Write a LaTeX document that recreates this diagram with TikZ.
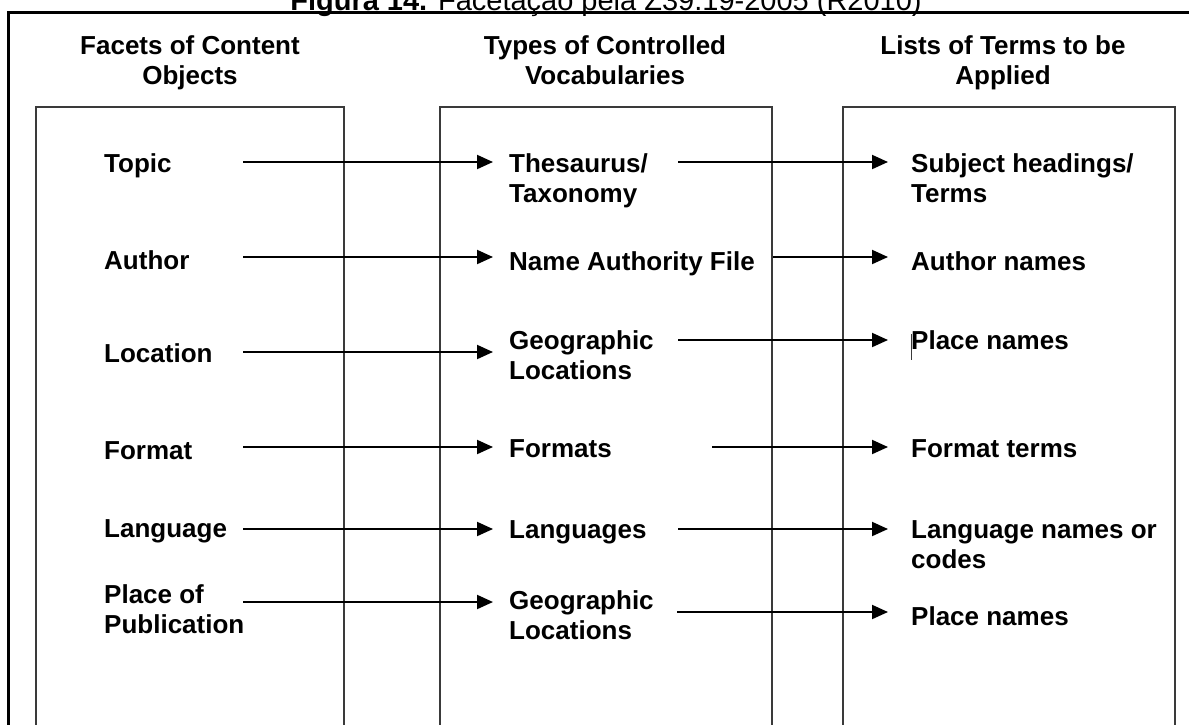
\documentclass[tikz,border=0pt]{standalone}
\usepackage{fontspec}
\setmainfont{Liberation Sans}
\usetikzlibrary{arrows.meta}
\definecolor{boxgray}{HTML}{3A3A3A}
% two stacked lines, baseline on the first one
\newcommand\twolines[2]{\begin{tabular}[t]{@{}l@{}}#1\\#2\end{tabular}}
\newcommand\twocentered[2]{\begin{tabular}[t]{@{}c@{}}#1\\#2\end{tabular}}
\begin{document}
\begin{tikzpicture}[x=1pt,y=-1pt,
  lbl/.style={anchor=base west, inner sep=0pt, font=\bfseries\fontsize{26}{30}\selectfont},
  hdr/.style={anchor=base, inner sep=0pt, font=\bfseries\fontsize{26}{30}\selectfont},
  colbox/.style={draw=boxgray, line width=2pt},
  frame/.style={draw=black, line width=2.6pt},
  arr/.style={draw=black, line width=2pt, -{Triangle[length=16pt,width=14pt]}},
]
\useasboundingbox (0,0) rectangle (1189,724);
\clip (0,0) rectangle (1189,724);

% caption
\node[anchor=base, inner sep=0pt, font=\fontsize{29}{34}\selectfont] (caption) at (606,10)
  {\textbf{Figura 14.} Facetação pela Z39.19-2005 (R2010)};

% outer frame
\draw[frame] (8.5,730) -- (8.5,12.5) -- (1195,12.5);

% column boxes (open at the bottom)
\draw[colbox] (36,730) -- (36,107) -- (344,107) -- (344,730);
\draw[colbox] (440,730) -- (440,107) -- (772,107) -- (772,730);
\draw[colbox] (843,730) -- (843,107) -- (1175,107) -- (1175,730);

% column headings
\node[hdr] (h1) at (190,54) {\twocentered{Facets of Content}{Objects}};
\node[hdr] (h2) at (605,54) {\twocentered{Types of Controlled}{Vocabularies}};
\node[hdr] (h3) at (1003,54) {\twocentered{Lists of Terms to be}{Applied}};

% facets
\node[lbl] (topic)  at (104,172.5) {Topic};
\node[lbl] (author) at (104,269.5) {Author};
\node[lbl] (loc)    at (104,362.5) {Location};
\node[lbl] (format) at (104,459.5) {Format};
\node[lbl] (lang)   at (104,537.5) {Language};
\node[lbl] (pub)    at (104,603)   {\twolines{Place of}{Publication}};

% vocabularies
\node[lbl] (thes)   at (509,172.5) {\twolines{Thesaurus/}{Taxonomy}};
\node[lbl] (naf)    at (509,270)   {Name Authority File};
\node[lbl] (geoA)   at (509,349.5) {\twolines{Geographic}{Locations}};
\node[lbl] (fmts)   at (509,457.5) {Formats};
\node[lbl] (langs)  at (509,538.5) {Languages};
\node[lbl] (geoB)   at (509,609)   {\twolines{Geographic}{Locations}};

% term lists
\node[lbl] (subj)   at (911,172.5) {\twolines{Subject headings/}{Terms}};
\node[lbl] (anames) at (911,270)   {Author names};
\node[lbl] (placeA) at (911,349.5) {Place names};
\node[lbl] (fterms) at (911,457.5) {Format terms};
\node[lbl] (lnames) at (911,538.5) {\twolines{Language names or}{codes}};
\node[lbl] (placeB) at (911,625)   {Place names};

% text cursor left beside the first place-names entry
\draw[boxgray, line width=0.9pt] (911.5,334) -- (911.5,360);

% arrow start points
\coordinate (s1) at (243,162);
\coordinate (s2) at (243,257);
\coordinate (s3) at (243,352);
\coordinate (s4) at (243,447);
\coordinate (s5) at (243,529);
\coordinate (s6) at (243,602);
\coordinate (r1) at (678,162);
\coordinate (r2) at (773,257);
\coordinate (r3) at (678,340);
\coordinate (r4) at (712,447);
\coordinate (r5) at (678,529);
\coordinate (r6) at (677,612);

% facets -> vocabularies
\foreach \s/\t in {s1/thes, s2/naf, s3/geoA, s4/fmts, s5/langs, s6/geoB}
  \draw[arr, shorten >=16pt] (\s) -- (\s -| \t.west);

% vocabularies -> term lists
\foreach \s/\t in {r1/subj, r2/anames, r3/placeA, r4/fterms, r5/lnames, r6/placeB}
  \draw[arr, shorten >=23pt] (\s) -- (\s -| \t.west);
\end{tikzpicture}
\end{document}
